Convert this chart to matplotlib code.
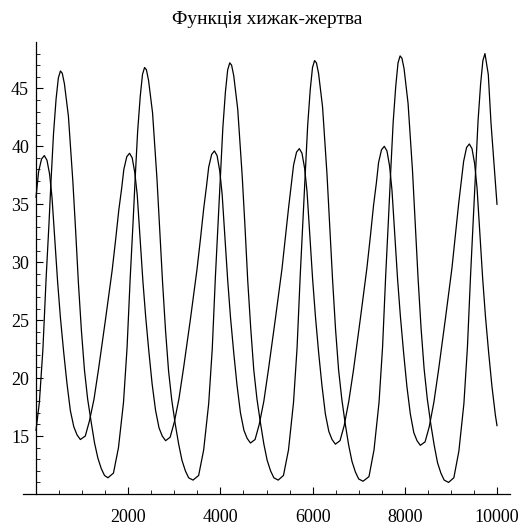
import matplotlib
matplotlib.use("Agg")
import matplotlib.pyplot as plt
from matplotlib.ticker import FixedLocator

title = "Функція хижак-жертва"

# short curve (peaks ~39-40, troughs ~14-15)
x_short = [0, 56, 120, 180, 238, 295, 347, 410, 469, 530, 599, 670, 745, 820, 890, 962,
           1069, 1159, 1259, 1361, 1509, 1652, 1729, 1796, 1859, 1905, 1969, 2029,
           2087, 2144, 2196, 2259, 2318, 2379, 2448, 2519, 2594, 2669, 2739, 2811,
           2910, 3000, 3100, 3202, 3350, 3493, 3570, 3637, 3700, 3746, 3810, 3870,
           3928, 3985, 4037, 4100, 4159, 4220, 4289, 4360, 4435, 4510, 4580, 4652,
           4752, 4842, 4942, 5044, 5192, 5335, 5412, 5479, 5542, 5588, 5652, 5712,
           5770, 5827, 5879, 5942, 6001, 6062, 6131, 6202, 6277, 6352, 6422, 6494,
           6595, 6685, 6785, 6887, 7035, 7178, 7255, 7322, 7385, 7431, 7495, 7555,
           7613, 7670, 7722, 7785, 7844, 7905, 7974, 8045, 8120, 8195, 8265, 8337,
           8440, 8530, 8630, 8732, 8880, 9023, 9100, 9167, 9230, 9276, 9340, 9400,
           9458, 9515, 9567, 9630, 9689, 9750, 9819, 9890, 9965, 10000]
y_short = [35.6, 37.8, 38.9, 39.2, 38.8, 37.6, 35.6, 31.9, 28.3, 25.2, 22.3, 19.6, 17.2, 15.8, 15.1, 14.7,
           15.0, 16.3, 18.2, 20.9, 25.1, 29.3, 32.0, 34.5, 36.4, 38.0, 39.1, 39.4,
           39.0, 37.7, 35.8, 32.0, 28.4, 25.3, 22.3, 19.5, 17.2, 15.7, 15.0, 14.6,
           14.9, 16.2, 18.2, 20.9, 25.1, 29.4, 32.1, 34.6, 36.6, 38.2, 39.3, 39.6,
           39.2, 37.9, 35.9, 32.0, 28.4, 25.2, 22.2, 19.4, 17.0, 15.5, 14.8, 14.4,
           14.7, 16.0, 18.0, 20.8, 25.1, 29.4, 32.2, 34.7, 36.8, 38.4, 39.5, 39.8,
           39.4, 38.1, 36.1, 32.2, 28.5, 25.3, 22.2, 19.4, 16.9, 15.4, 14.7, 14.3,
           14.6, 15.9, 18.0, 20.7, 25.1, 29.5, 32.3, 34.9, 36.9, 38.6, 39.7, 40.0,
           39.6, 38.3, 36.2, 32.3, 28.5, 25.3, 22.2, 19.3, 16.9, 15.3, 14.6, 14.2,
           14.5, 15.8, 17.9, 20.7, 25.1, 29.5, 32.4, 35.0, 37.1, 38.7, 39.9, 40.2,
           39.8, 38.5, 36.4, 32.4, 28.6, 25.3, 22.2, 19.3, 16.8, 15.9]

# tall curve (peaks ~46-48, troughs ~11)
x_tall = [0, 73, 150, 218, 280, 327, 380, 436, 485, 530,
          570, 616, 703, 799, 860, 920, 985, 1051, 1120, 1197, 1270, 1342, 1415, 1486, 1560,
          1680, 1789, 1898, 1975, 2043, 2105, 2152, 2205, 2261, 2310, 2355,
          2395, 2441, 2528, 2624, 2685, 2745, 2810, 2876, 2945, 3022, 3095, 3167, 3240, 3311, 3406,
          3528, 3637, 3746, 3823, 3891, 3953, 4000, 4053, 4109, 4158, 4203,
          4243, 4289, 4376, 4472, 4533, 4593, 4658, 4724, 4793, 4870, 4943, 5015, 5088, 5159, 5254,
          5368, 5477, 5586, 5663, 5731, 5793, 5840, 5893, 5949, 5998, 6043,
          6083, 6129, 6216, 6312, 6373, 6433, 6498, 6564, 6633, 6710, 6783, 6855, 6928, 6999, 7094,
          7223, 7332, 7441, 7518, 7586, 7648, 7695, 7748, 7804, 7853, 7898,
          7938, 7984, 8071, 8167, 8228, 8288, 8353, 8419, 8488, 8565, 8638, 8710, 8783, 8854, 8949,
          9064, 9173, 9282, 9359, 9427, 9489, 9536, 9589, 9645, 9694, 9739,
          9811, 9870, 9941, 10000]
y_tall = [15.5, 17.9, 22.5, 28.5, 33.2, 37.1, 41.1, 44.1, 45.9, 46.5,
          46.3, 45.4, 42.6, 37.0, 32.7, 28.2, 24.1, 20.7, 18.2, 16.2, 14.4, 13.1, 12.2, 11.6, 11.4,
          11.8, 14.0, 17.9, 22.6, 28.6, 33.4, 37.3, 41.3, 44.3, 46.2, 46.8,
          46.6, 45.7, 42.9, 37.2, 32.8, 28.3, 24.1, 20.6, 18.1, 16.0, 14.3, 12.9, 12.0, 11.4, 11.2,
          11.6, 13.8, 17.8, 22.5, 28.7, 33.6, 37.5, 41.6, 44.7, 46.6, 47.2,
          47.0, 46.1, 43.2, 37.5, 33.1, 28.4, 24.3, 20.7, 18.2, 16.1, 14.3, 12.9, 12.0, 11.4, 11.2,
          11.6, 13.8, 17.9, 22.6, 28.8, 33.7, 37.6, 41.8, 44.9, 46.8, 47.4,
          47.2, 46.3, 43.4, 37.6, 33.1, 28.5, 24.2, 20.7, 18.2, 16.0, 14.2, 12.8, 11.9, 11.3, 11.1,
          11.5, 13.8, 17.9, 22.7, 28.9, 33.9, 37.9, 42.1, 45.2, 47.2, 47.8,
          47.6, 46.7, 43.7, 37.9, 33.3, 28.6, 24.3, 20.8, 18.2, 16.0, 14.2, 12.7, 11.8, 11.2, 11.0,
          11.4, 13.7, 17.8, 22.7, 28.9, 34.0, 38.0, 42.2, 45.4, 47.4, 48.0,
          46.2, 42.0, 38.2, 35.0]

x_major = [2000, 4000, 6000, 8000, 10000]
y_major = [15, 20, 25, 30, 35, 40, 45]

plt.rcParams['font.family'] = ['Liberation Serif', 'DejaVu Serif']

fig = plt.figure(figsize=(5.18, 5.29), dpi=100)
ax = fig.add_axes([23/518, 35/529, 487/518, 452/529])

ax.plot(x_short, y_short, color='black', lw=0.9)
ax.plot(x_tall, y_tall, color='black', lw=0.9)

ax.set_xlim(-282, 10282)
ax.set_ylim(10, 49)

ax.spines['top'].set_visible(False)
ax.spines['right'].set_visible(False)
ax.spines['left'].set_position(('data', 0))
for s in ['left', 'bottom']:
    ax.spines[s].set_linewidth(0.9)

ax.xaxis.set_major_locator(FixedLocator(x_major))
ax.xaxis.set_minor_locator(FixedLocator([v for v in range(500, 10001, 500) if v not in x_major]))
ax.yaxis.set_major_locator(FixedLocator(y_major))
ax.yaxis.set_minor_locator(FixedLocator([v for v in range(11, 49) if v not in y_major]))

ax.tick_params(axis='x', which='major', direction='in', length=5, width=0.8, pad=11, labelsize=13)
ax.tick_params(axis='x', which='minor', direction='in', length=3, width=0.6)
ax.tick_params(axis='y', which='major', direction='in', length=5, width=0.8, pad=5, labelsize=13)
ax.tick_params(axis='y', which='minor', direction='in', length=3, width=0.6)

fig.text(267/518, 1 - 20/529, title, ha='center', va='center', fontsize=14)

fig.savefig("out.png", dpi=100)
